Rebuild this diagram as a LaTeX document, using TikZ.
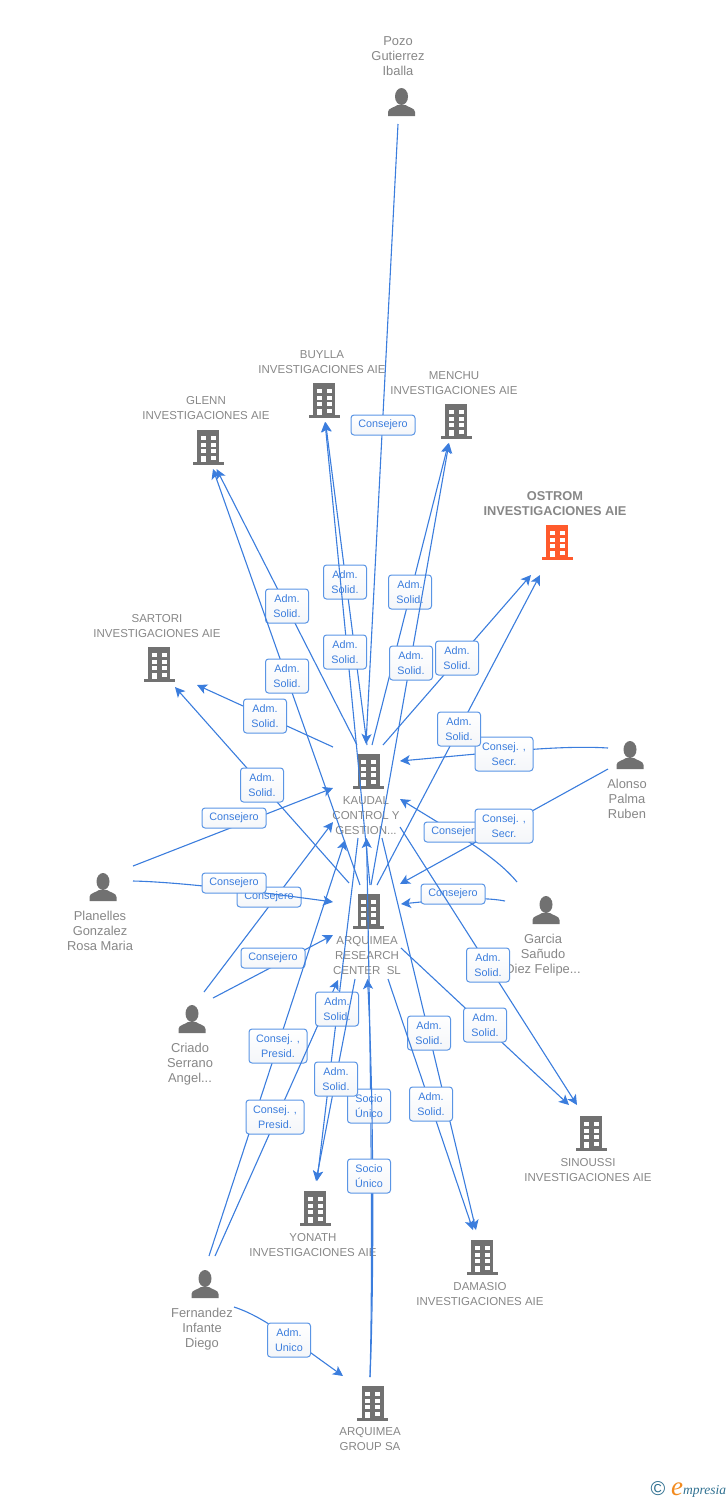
\documentclass[tikz,border=0pt]{standalone}
\usepackage{fontspec}
\setmainfont{Liberation Sans}
\newfontfamily\logofont{Liberation Serif}
\usetikzlibrary{arrows.meta}
\definecolor{linkblue}{HTML}{3B7DDD}
\definecolor{tagblue}{HTML}{5A95E5}
\definecolor{tagfill}{HTML}{F4F6F9}
\definecolor{iconc}{HTML}{717171}
\definecolor{textc}{HTML}{878787}
\definecolor{hotc}{HTML}{FF5A2C}
\definecolor{logoc}{HTML}{2F7090}
\definecolor{logoe}{HTML}{F28A1E}
\tikzset{
  building/.pic={
    \fill[#1] (-11,-17) rectangle (11,15);
    \fill[#1] (-15.5,15) rectangle (15.5,17.5);
    \foreach \wx in {-7.5,2.5}
      \foreach \wy in {-11,-4.5,2}
        \fill[white] (\wx,\wy) rectangle ++(5,4);
    \fill[white] (-7.5,8.5) rectangle (-2.5,15);
    \fill[white] (2.5,8.5) rectangle (7.5,12.5);
  },
  person/.pic={
    \fill[iconc] (0,-6.5) ellipse (6.5 and 8.5);
    \fill[iconc] (-13.5,13) -- (-13.5,9) .. controls (-13.5,5) and (-7,4.5) .. (-4,2)
      -- (4,2) .. controls (7,4.5) and (13.5,5) .. (13.5,9) -- (13.5,13) -- cycle;
  },
  entity/.style={text=textc, align=center, inner sep=0pt, anchor=north,
    font=\fontsize{11.5}{15}\selectfont},
  people/.style={text=textc, align=center, inner sep=0pt, anchor=north,
    font=\fontsize{12.9}{15}\selectfont},
  link/.style={linkblue, line width=1.1pt, -{Stealth[length=10pt,width=10pt,inset=2.5pt]}},
  tag/.style={draw=tagblue, line width=1pt, rounded corners=3pt, top color=white,
    bottom color=tagfill, text=linkblue, align=center, inner sep=0pt,
    minimum width=43pt, minimum height=34pt, font=\fontsize{10.8}{15}\selectfont},
  tagwide/.style={tag, minimum width=58pt},
  tagline/.style={tag, minimum width=64pt, minimum height=20pt}
}
\begin{document}
\begin{tikzpicture}[x=1pt,y=-1pt]
\useasboundingbox (0,0) rectangle (728,1500);

% people and companies
\pic at (401.5,103) {person};
\node[people] (pozo) at (398,36) {Pozo\\Gutierrez\\Iballa};
\pic at (324,400) {building=iconc};
\node[entity] (buylla) at (322,350.5) {BUYLLA\\INVESTIGACIONES AIE};
\pic at (456,421) {building=iconc};
\node[entity] (menchu) at (454,371.5) {MENCHU\\INVESTIGACIONES AIE};
\pic at (208,447) {building=iconc};
\node[entity] (glenn) at (206,396.5) {GLENN\\INVESTIGACIONES AIE};
\pic at (557,542) {building=hotc};
\node[entity, font=\fontsize{12.8}{15}\selectfont\bfseries] (ostrom) at (555,491.5) {OSTROM\\INVESTIGACIONES AIE};
\pic at (159,664) {building=iconc};
\node[entity] (sartori) at (157,614.5) {SARTORI\\INVESTIGACIONES AIE};
\pic at (368.5,771) {building=iconc};
\node[entity] (kaudal) at (366,796.5) {KAUDAL\\CONTROL Y\\GESTION...};
\pic at (630,756) {person};
\node[people] (alonso) at (627,779) {Alonso\\Palma\\Ruben};
\pic at (103,888) {person};
\node[people] (planelles) at (100,911) {Planelles\\Gonzalez\\Rosa Maria};
\pic at (368.5,911) {building=iconc};
\node[entity] (research) at (367,936.5) {ARQUIMEA\\RESEARCH\\CENTER~~SL};
\pic at (546,911) {person};
\node[people] (garcia) at (543,934) {Garcia\\Sañudo\\Diez Felipe...};
\pic at (192,1020) {person};
\node[people] (criado) at (190,1043) {Criado\\Serrano\\Angel...};
\pic at (591,1133) {building=iconc};
\node[entity] (sinoussi) at (588,1158.5) {SINOUSSI\\INVESTIGACIONES AIE};
\pic at (315,1208) {building=iconc};
\node[entity] (yonath) at (313,1233.5) {YONATH\\INVESTIGACIONES AIE};
\pic at (482,1257) {building=iconc};
\node[entity] (damasio) at (480,1282.5) {DAMASIO\\INVESTIGACIONES AIE};
\pic at (205,1285) {person};
\node[people] (fernandez) at (202,1308) {Fernandez\\Infante\\Diego};
\pic at (372.5,1403) {building=iconc};
\node[entity] (group) at (370,1427.5) {ARQUIMEA\\GROUP SA};

% line ends
\foreach \n/\x/\y in {
  po-kd/398/124, kd-po/366/744,
  kd-bu/367/745, bu-kd/325.5/422, kd-gl/357/745, gl-kd/216.5/469,
  kd-me/372/745, me-kd/448.5/443, kd-os/383/745, os-kd/531/575,
  kd-sa/333/747, sa-kd/197/685, ar-bu/370/885, bu-ar/325/422,
  ar-gl/360/885, gl-ar/213/469, ar-me/371/885, me-ar/449/443,
  ar-os/377/885, os-ar/540/575, ar-sa/349/883, sa-ar/175/687,
  pl-kd/133/866, kd-pl/333/788, cr-kd/204/992, kd-cr/333/822,
  pl-ar/133/881, ar-pl/333/902, cr-ar/213/998, ar-cr/333/935,
  al-kd/608/748, kd-al/400/761, al-ar/608/769, ar-al/400/884,
  ga-kd/517/882, kd-ga/400/799, ga-ar/505/901, ar-ga/401/904,
  kd-si/400/827, si-kd/577/1105, ar-si/401/948, si-ar/569/1105,
  kd-da/382/838, da-kd/476/1230, ar-da/388/979, da-ar/473/1230,
  kd-yo/358/838, yo-kd/317/1181, ar-yo/355/979, yo-ar/316/1181,
  gr-kd/370/1377, kd-gr/366.5/838, gr-ar/370/1377, ar-gr/367.5/979,
  fe-kd/209/1256, kd-fe/345/840, fe-ar/215/1256, ar-fe/338/980,
  fe-gr/234/1307, gr-fe/343/1376}
  \coordinate (\n) at (\x,\y);

% links, with their tags
\draw[link] (po-kd) -- (kd-po);
\node[tagline] (t1) at (383,425) {Consejero};
\draw[link] (kd-bu) -- (bu-kd);
\node[tag] (t2) at (345,582) {Adm.~\\Solid.};
\draw[link] (kd-gl) -- (gl-kd);
\node[tag] (t3) at (287,606) {Adm.~\\Solid.};
\draw[link] (kd-me) -- (me-kd);
\node[tag] (t4) at (410,592) {Adm.~\\Solid.};
\draw[link] (kd-os) -- (os-kd);
\node[tag] (t5) at (457,658) {Adm.~\\Solid.};
\draw[link] (kd-sa) -- (sa-kd);
\node[tag] (t6) at (265,716) {Adm.~\\Solid.};
\draw[link] (ar-bu) -- (bu-ar);
\node[tag] (t7) at (345,652) {Adm.~\\Solid.};
\draw[link] (ar-gl) -- (gl-ar);
\node[tag] (t8) at (287,676) {Adm.~\\Solid.};
\draw[link] (ar-me) -- (me-ar);
\node[tag] (t9) at (411,663) {Adm.~\\Solid.};
\draw[link] (al-kd) .. controls (560,745) and (500,752) .. (kd-al);
\node[tagwide] (t16) at (504,754) {Consej. ,\\Secr.};
\draw[link] (ar-os) -- (os-ar);
\node[tag] (t10) at (459,729) {Adm.~\\Solid.};
\draw[link] (ar-sa) -- (sa-ar);
\node[tag] (t11) at (262,785) {Adm.~\\Solid.};
\draw[link] (pl-kd) -- (kd-pl);
\node[tagline] (t12) at (234,818) {Consejero};
\draw[link] (cr-kd) -- (kd-cr);
\node[tagline] (t13) at (269,897) {Consejero};
\draw[link] (pl-ar) .. controls (180,882) and (260,892) .. (ar-pl);
\node[tagline] (t14) at (234,883) {Consejero};
\draw[link] (cr-ar) -- (ar-cr);
\node[tagline] (t15) at (273,958) {Consejero};
\draw[link] (ga-kd) .. controls (495,855) and (450,830) .. (kd-ga);
\node[tagline] (t17) at (456,832) {Consejero};
\draw[link] (al-ar) -- (ar-al);
\node[tagwide] (t18) at (504,826) {Consej. ,\\Secr.};
\draw[link] (ga-ar) .. controls (480,896) and (440,900) .. (ar-ga);
\node[tagline] (t19) at (453,894) {Consejero};
\draw[link] (kd-si) -- (si-kd);
\node[tag] (t20) at (488,965) {Adm.~\\Solid.};
\draw[link] (ar-si) -- (si-ar);
\node[tag] (t21) at (485,1025) {Adm.~\\Solid.};
\draw[link] (kd-da) -- (da-kd);
\node[tag] (t22) at (429,1033) {Adm.~\\Solid.};
\draw[link] (ar-da) -- (da-ar);
\node[tag] (t23) at (431,1104) {Adm.~\\Solid.};
\draw[link] (gr-kd) .. controls (373.5,1250) and (370,1020) .. (kd-gr);
\node[tag] (t24) at (369,1106) {Socio\\Único};
\draw[link] (gr-ar) .. controls (374,1290) and (374,1100) .. (ar-gr);
\node[tag] (t25) at (369,1176) {Socio\\Único};
\draw[link] (fe-kd) -- (kd-fe);
\node[tagwide] (t26) at (278,1046) {Consej. ,\\Presid.};
\draw[link] (fe-ar) -- (ar-fe);
\node[tagwide] (t27) at (275,1117) {Consej. ,\\Presid.};
\draw[link] (kd-yo) -- (yo-kd);
\node[tag] (t28) at (337,1009) {Adm.~\\Solid.};
\draw[link] (ar-yo) -- (yo-ar);
\node[tag] (t29) at (336,1079) {Adm.~\\Solid.};
\draw[link] (fe-gr) .. controls (262,1316) and (290,1338) .. (gr-fe);
\node[tag] (t30) at (289,1340) {Adm.~\\Unico};

% logo
\node[text=logoc, inner sep=0pt, font=\fontsize{20}{20}\selectfont] (copy) at (658,1489) {©};
\node[text=logoe, inner sep=0pt, anchor=base west, font=\logofont\itshape\fontsize{27}{27}\selectfont] (mark) at (671,1495) {e};
\node[text=logoc, inner sep=0pt, anchor=base west, font=\logofont\itshape\fontsize{13.5}{14}\selectfont] (brand) at (683,1494) {mpresia};
\end{tikzpicture}
\end{document}
